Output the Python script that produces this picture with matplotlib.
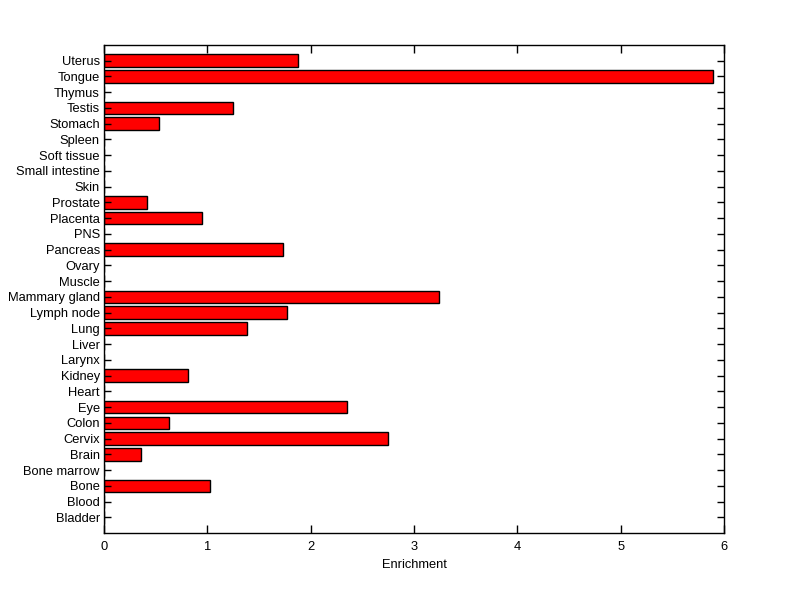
import matplotlib
matplotlib.use('Agg')
import matplotlib.pyplot as plt

plt.rcParams['font.family'] = ['Liberation Sans', 'DejaVu Sans']

# tissues, bottom to top
tissues = ['Bladder', 'Blood', 'Bone', 'Bone marrow', 'Brain', 'Cervix', 'Colon',
           'Eye', 'Heart', 'Kidney', 'Larynx', 'Liver', 'Lung', 'Lymph node',
           'Mammary gland', 'Muscle', 'Ovary', 'Pancreas', 'PNS', 'Placenta',
           'Prostate', 'Skin', 'Small intestine', 'Soft tissue', 'Spleen',
           'Stomach', 'Testis', 'Thymus', 'Tongue', 'Uterus']
enrichment = [0, 0, 1.03, 0, 0.36, 2.75, 0.63,
              2.35, 0, 0.81, 0, 0, 1.38, 1.77,
              3.24, 0, 0, 1.73, 0, 0.95,
              0.42, 0, 0, 0, 0,
              0.53, 1.25, 0, 5.89, 1.88]

fig = plt.figure(figsize=(8, 5.99), dpi=100)
ax = fig.add_axes([0.13, 0.11, 0.775, 0.815])

pos = list(range(1, len(tissues) + 1))
ax.barh(pos, enrichment, height=0.8, color='#ff0000', edgecolor='black', linewidth=1)

ax.set_xlim(0, 6)
ax.set_ylim(0, len(tissues) + 1)
ax.set_yticks(pos)
ax.set_yticklabels(tissues)
ax.set_xticks(range(0, 7))
ax.tick_params(direction='in', length=6, width=1, top=True, right=True, labelsize=9.3)
ax.tick_params(axis='y', length=5, pad=3)
ax.tick_params(axis='x', pad=6)
for s in ax.spines.values():
    s.set_linewidth(1)
ax.set_xlabel('Enrichment', fontsize=9.3, labelpad=4)

fig.savefig('out.png', dpi=100)
